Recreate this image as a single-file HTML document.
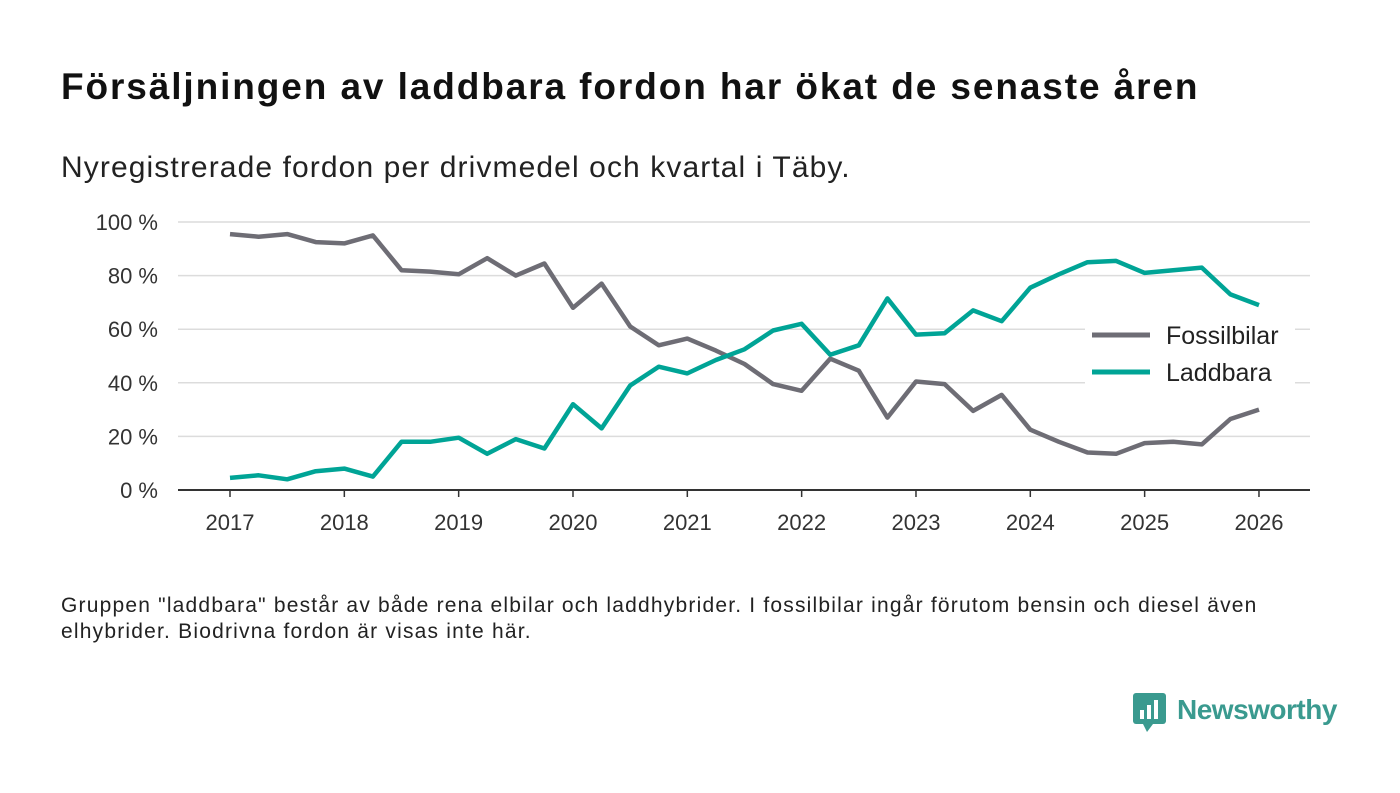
<!DOCTYPE html>
<html><head><meta charset="utf-8"><style>
body{margin:0;background:#fff;width:1400px;height:793px;overflow:hidden;font-family:"Liberation Sans",sans-serif;}
#title{position:absolute;left:61px;top:66px;font-size:37px;letter-spacing:1.9px;font-weight:bold;color:#111;margin:0;white-space:nowrap}
#sub{position:absolute;left:61px;top:151px;font-size:30px;letter-spacing:1.1px;color:#222;white-space:nowrap}
#foot{position:absolute;left:61px;top:593px;font-size:21px;letter-spacing:1.2px;line-height:26px;color:#222;width:1240px}
svg{position:absolute;left:0;top:0}
</style></head><body>
<h1 id="title">Försäljningen av laddbara fordon har ökat de senaste åren</h1>
<div id="sub">Nyregistrerade fordon per drivmedel och kvartal i Täby.</div>
<svg id="chart" width="1400" height="793"></svg>
<div id="foot">Gruppen "laddbara" består av både rena elbilar och laddhybrider. I fossilbilar ingår förutom bensin och diesel även elhybrider. Biodrivna fordon är visas inte här.</div>
<div style="position:absolute;left:1133px;top:693px;display:flex;align-items:center">
<svg width="34" height="40" style="position:static"><rect x="0" y="0" width="33" height="31" rx="3" fill="#3a9a8f"/><polygon points="10,31 20,31 14,39" fill="#3a9a8f"/><rect x="7" y="17" width="4" height="9" fill="#fff"/><rect x="14" y="12" width="4" height="14" fill="#fff"/><rect x="21" y="7" width="4" height="19" fill="#fff"/></svg>
<span style="font-size:28px;font-weight:bold;color:#3a9a8f;margin-left:10px;margin-top:-6px;letter-spacing:-0.5px">Newsworthy</span></div>
<script>
const years=[2017,2018,2019,2020,2021,2022,2023,2024,2025,2026];
const yTicks=[0,20,40,60,80,100];
const fossil=[95.5,94.5,95.5,92.5,92,95,82,81.5,80.5,86.5,80,84.5,68,77,61,54,56.5,52,47,39.5,37,49,44.5,27,40.5,39.5,29.5,35.5,22.5,18,14,13.5,17.5,18,17,26.5,30];
const laddbara=[4.5,5.5,4,7,8,5,18,18,19.5,13.5,19,15.5,32,23,39,46,43.5,48.5,52.5,59.5,62,50.5,54,71.5,58,58.5,67,63,75.5,80.5,85,85.5,81,82,83,73,69];
const NS="http://www.w3.org/2000/svg",svg=document.getElementById('chart');
const x=t=>230+(t-2017)*114.33, y=v=>490-v*2.68;
function mk(tag,a,txt){const e=document.createElementNS(NS,tag);for(const k in a)e.setAttribute(k,a[k]);if(txt!=null)e.textContent=txt;svg.appendChild(e);return e;}
yTicks.forEach(v=>{
 if(v>0){const g=mk('line',{x1:178,x2:1310,y1:y(v),y2:y(v),stroke:'#dcdcdc','stroke-width':1.5});
 
 }
 const t=mk('text',{x:158,y:y(v)+8,'text-anchor':'end','font-size':22,fill:'#333'},v+' %');
 
 
});
const ax=mk('line',{x1:178,x2:1310,y1:490,y2:490,stroke:'#333','stroke-width':2});


years.forEach(yr=>{
 const tk=mk('line',{x1:x(yr),x2:x(yr),y1:490,y2:497,stroke:'#333','stroke-width':1.5});
 
 
 const t=mk('text',{x:x(yr),y:530,'text-anchor':'middle','font-size':22,fill:'#333'},yr);
 
 
});
function line(vals,col,name){
 const p=vals.map((v,i)=>x(2017+i*0.25).toFixed(1)+','+y(v).toFixed(1)).join(' ');
 const l=mk('polyline',{points:p,fill:'none',stroke:col,'stroke-width':4.5,'stroke-linejoin':'round'});
 
 
}
line(fossil,'#6e6d75','fossilbilar-line');
line(laddbara,'#00a496','laddbara-line');
const bg=mk('rect',{x:1085,y:314,width:210,height:80,fill:'#fff'});


[['Fossilbilar','#6e6d75',335],['Laddbara','#00a496',372]].forEach(([n,c,yy])=>{
 const s=mk('line',{x1:1092,x2:1150,y1:yy,y2:yy,stroke:c,'stroke-width':5});
 
 
 const t=mk('text',{x:1166,y:yy+9,'font-size':25,fill:'#222'},n);
 
 
});
</script>
</body></html>
